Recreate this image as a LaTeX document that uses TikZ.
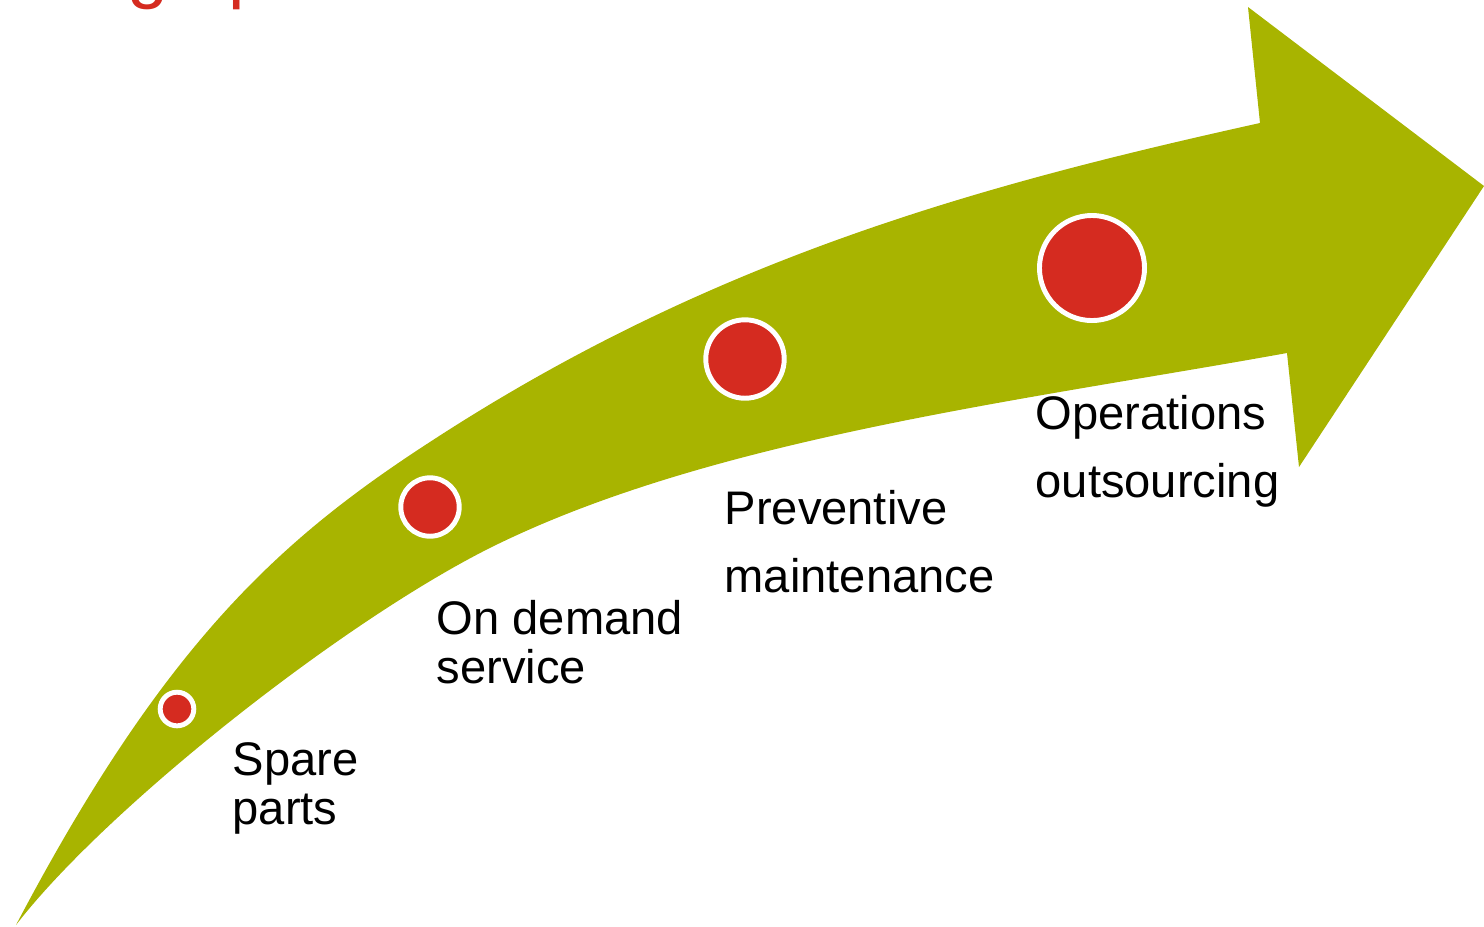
\documentclass[tikz,border=0pt]{standalone}
\usepackage{fontspec}
\setmainfont{Liberation Sans}
\definecolor{arrowgreen}{RGB}{168,180,0}
\definecolor{dotred}{RGB}{213,43,32}
\tikzset{
  stagedot/.style={circle, fill=dotred, draw=white, line width=1.4pt, inner sep=0pt},
  stage/.style={anchor=north west, inner sep=0pt, align=left, font=\fontsize{13.4}{13.9}\selectfont},
  widestage/.style={stage, font=\fontsize{13.4}{19.3}\selectfont}
}
\begin{document}
\begin{tikzpicture}[x=0.01cm, y=-0.01cm]
      \useasboundingbox (0,0) rectangle (1484,926);
      \node[anchor=base west, inner sep=0pt, text=dotred, font=\fontsize{21}{25}\selectfont]
        (title) at (127,-6) {g\hspace{0.6cm}p};
      \fill[arrowgreen]
        (16,925) .. controls (166,640) and (283,537) .. (433,440)
        .. controls (713,258) and (980,185) .. (1260,123)
        -- (1248,7) -- (1484,186) -- (1299,467) -- (1287,353)
        .. controls (1027,400) and (720,437) .. (500,543)
        .. controls (350,615) and (106,808) .. (16,925)
        -- cycle;
      \draw
        (177,709) node[stagedot, minimum size=0.336cm] (0){}
        (430,507) node[stagedot, minimum size=0.584cm] (1){}
        (745,359) node[stagedot, minimum size=0.784cm] (2){}
        (1092,268) node[stagedot, minimum size=1.05cm] (3){};
      \begin{scope}[every node/.append style={text=black}]
        \node[stage] (spare) at (232,742) {Spare\\parts};
        \node[stage] (ondemand) at (436,600) {On demand\\service};
        \node[widestage] (preventive) at (724,490) {Preventive\\maintenance};
        \node[widestage] (operations) at (1035,395) {Operations\\outsourcing};
      \end{scope}
    \end{tikzpicture}
\end{document}
